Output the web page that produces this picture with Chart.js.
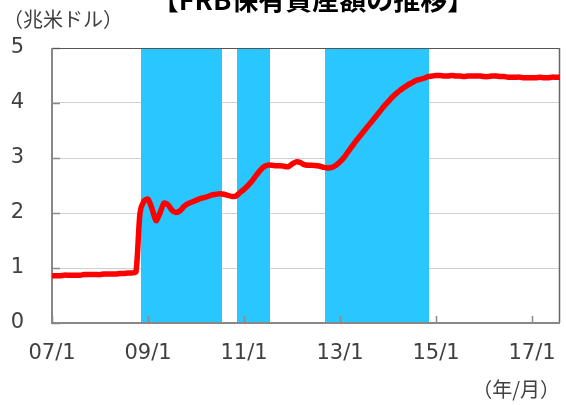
<!DOCTYPE html>
<html>
<head>
<meta charset="utf-8">
<script src="https://cdn.jsdelivr.net/npm/chart.js@4/dist/chart.umd.min.js"></script>
<style>
  html, body { margin: 0; padding: 0; background: #fff; }
  #wrap { position: relative; width: 566px; height: 405px; overflow: hidden; }
  canvas { position: absolute; left: 0; top: 0; }
  .lbl { position: absolute; font-family: "Noto Sans CJK JP", "Noto Sans", sans-serif; color: #404040; white-space: nowrap; }
  #title { left: 0; width: 626px; text-align: center; top: -16px; font-size: 27px; font-weight: bold; color: #000; line-height: 30px; }
  #unit { left: 3px; top: 6px; font-size: 20px; line-height: 26px; }
  #xunit { right: 6px; top: 376px; font-size: 20px; line-height: 26px; }
</style>
</head>
<body>
<div id="wrap">
  <canvas id="c" width="566" height="405"></canvas>
  <div class="lbl" id="title">【FRB保有資産額の推移】</div>
  <div class="lbl" id="unit">（兆米ドル）</div>
  <div class="lbl" id="xunit">（年/月）</div>
</div>
<script>
// months counted from 2007/1 (0) to 2017/8 (127)
const assetValues = [
  0.86,0.86,0.86,0.87,0.87,0.87,0.87,0.87,0.88,0.88,0.88,0.88,
  0.88,0.89,0.89,0.89,0.89,0.90,0.90,0.91,0.91,0.93,2.00,2.22,
  2.25,2.08,1.86,2.00,2.18,2.15,2.05,2.01,2.04,2.12,2.17,2.20,
  2.23,2.26,2.28,2.30,2.33,2.34,2.35,2.34,2.32,2.30,2.31,2.37,
  2.43,2.50,2.58,2.68,2.77,2.84,2.87,2.87,2.86,2.86,2.85,2.84,
  2.89,2.93,2.92,2.88,2.87,2.87,2.86,2.85,2.83,2.82,2.83,2.87,
  2.93,3.01,3.11,3.21,3.31,3.40,3.49,3.58,3.67,3.76,3.85,3.94,
  4.02,4.10,4.17,4.23,4.28,4.33,4.37,4.41,4.43,4.45,4.48,4.49,
  4.50,4.50,4.49,4.49,4.50,4.49,4.49,4.48,4.49,4.49,4.49,4.49,
  4.48,4.48,4.49,4.49,4.48,4.48,4.47,4.47,4.47,4.47,4.46,4.46,
  4.46,4.46,4.47,4.46,4.46,4.47,4.47,4.47
];
const monthIndex = assetValues.map((v, i) => i);
const tickMonths = [0, 24, 48, 72, 96, 120];
const tickLabels = ['07/1', '09/1', '11/1', '13/1', '15/1', '17/1'];
const yTicks = [0, 1, 2, 3, 4, 5];
// shaded periods (QE1, QE2, QE3), in months from 2007/1
const bandStart = [22.25, 46.25, 68.25];
const bandEnd = [42.5, 54.5, 94.25];

const bandsPlugin = {
  id: 'bands',
  beforeDatasetsDraw(chart) {
    const { ctx, chartArea: a, scales: { x, y } } = chart;
    ctx.save();
    ctx.fillStyle = '#29c6ff';
    for (let i = 0; i < bandStart.length; i++) {
      const x0 = x.getPixelForValue(bandStart[i]);
      const x1 = x.getPixelForValue(bandEnd[i]);
      ctx.fillRect(x0, a.top, x1 - x0, a.bottom - a.top);
    }
    // inward tick marks
    ctx.strokeStyle = '#8a8a8a';
    ctx.lineWidth = 1.5;
    tickMonths.forEach(m => {
      const px = Math.round(x.getPixelForValue(m)) + 0.5;
      ctx.beginPath(); ctx.moveTo(px, a.bottom); ctx.lineTo(px, a.bottom - 7); ctx.stroke();
    });
    yTicks.forEach(v => {
      const py = Math.round(y.getPixelForValue(v)) + 0.5;
      ctx.beginPath(); ctx.moveTo(a.left, py); ctx.lineTo(a.left + 8, py); ctx.stroke();
    });
    // frame
    ctx.strokeStyle = '#555';
    ctx.lineWidth = 1.2;
    ctx.beginPath(); ctx.moveTo(a.left, a.top + 0.5); ctx.lineTo(a.right, a.top + 0.5); ctx.stroke();
    ctx.strokeStyle = '#666';
    ctx.lineWidth = 1.5;
    ctx.beginPath(); ctx.moveTo(a.right - 0.5, a.top); ctx.lineTo(a.right - 0.5, a.bottom); ctx.stroke();
    ctx.strokeStyle = '#888';
    ctx.lineWidth = 2;
    ctx.beginPath(); ctx.moveTo(a.left, a.top); ctx.lineTo(a.left, a.bottom + 1); ctx.stroke();
    ctx.beginPath(); ctx.moveTo(a.left, a.bottom); ctx.lineTo(a.right, a.bottom); ctx.stroke();
    ctx.restore();
  }
};

new Chart(document.getElementById('c'), {
  type: 'line',
  data: {
    datasets: [{
      data: monthIndex.map((m, i) => ({ x: m, y: assetValues[i] })),
      borderColor: '#ff0000',
      borderWidth: 5.5,
      pointRadius: 0,
      tension: 0.25,
      borderCapStyle: 'round',
      borderJoinStyle: 'round'
    }]
  },
  options: {
    responsive: false,
    animation: false,
    layout: { padding: { top: 48, right: 6, left: 0, bottom: 0 } },
    plugins: { legend: { display: false }, tooltip: { enabled: false } },
    scales: {
      x: {
        type: 'linear',
        min: 0, max: 127,
        afterFit(s) { s.height = 82; s.paddingLeft = 0; s.paddingRight = 0; },
        afterBuildTicks(s) { s.ticks = tickMonths.map(v => ({ value: v })); },
        ticks: {
          callback: (v) => tickLabels[tickMonths.indexOf(v)],
          color: '#404040',
          font: { family: 'DejaVu Sans', size: 21 },
          padding: 18,
          maxRotation: 0,
          autoSkip: false
        },
        grid: { display: false, drawTicks: false },
        border: { display: false }
      },
      y: {
        min: 0, max: 5,
        afterFit(s) { s.width = 52; s.paddingTop = 0; s.paddingBottom = 0; },
        afterBuildTicks(s) { s.ticks = yTicks.map(v => ({ value: v })); },
        ticks: {
          color: '#404040',
          font: { family: 'DejaVu Sans', size: 21 },
          padding: 28
        },
        grid: { color: '#d0d0d0', lineWidth: 1, drawTicks: false },
        border: { display: false }
      }
    }
  },
  plugins: [bandsPlugin]
});
</script>
</body>
</html>
